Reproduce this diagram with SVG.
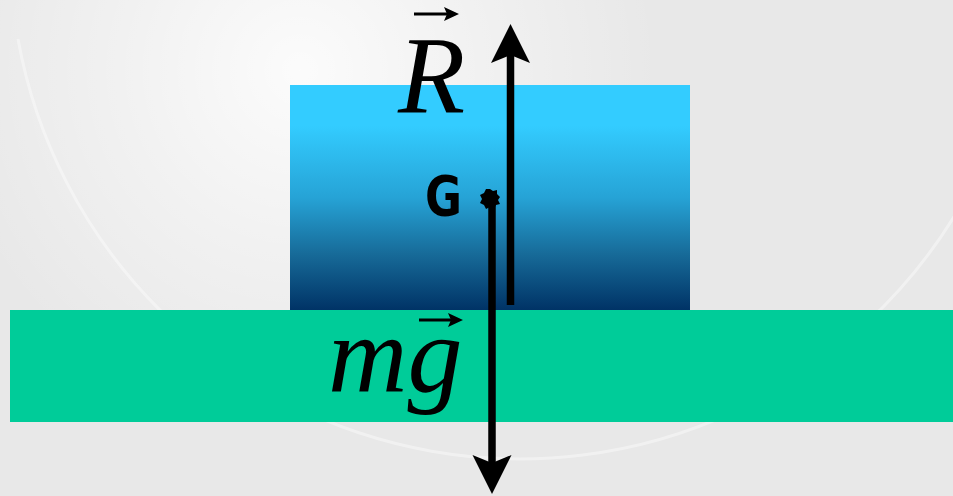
<svg xmlns="http://www.w3.org/2000/svg" width="953" height="496" viewBox="0 0 953 496">
  <defs>
    <style>
      .force { stroke: #000; stroke-width: 7.5; fill: none; stroke-linecap: butt; }
      .vec { stroke: #000; stroke-width: 3; fill: none; }
      .sym { font-family: "Liberation Serif", "Times New Roman", serif; font-style: italic; font-size: 110px; fill: #000; }
      .glabel { font-family: "Comic Sans MS", "DejaVu Sans", sans-serif; font-weight: bold; font-size: 55px; fill: #000; }
    </style>
    <linearGradient id="blockGrad" x1="0" y1="0" x2="0" y2="1">
      <stop offset="0" stop-color="#33ccff"/>
      <stop offset="0.18" stop-color="#33ccff"/>
      <stop offset="0.5" stop-color="#26a3d6"/>
      <stop offset="0.75" stop-color="#176b99"/>
      <stop offset="1" stop-color="#003366"/>
    </linearGradient>
    <radialGradient id="bgGlow" cx="300" cy="70" r="360" gradientUnits="userSpaceOnUse">
      <stop offset="0" stop-color="#ffffff" stop-opacity="0.85"/>
      <stop offset="0.5" stop-color="#ffffff" stop-opacity="0.4"/>
      <stop offset="1" stop-color="#ffffff" stop-opacity="0"/>
    </radialGradient>
    <marker id="head" markerUnits="userSpaceOnUse" markerWidth="40" markerHeight="40" refX="14" refY="20" orient="auto" overflow="visible">
      <path d="M39,20 L0,0.5 L8,20 L0,39.5 Z" fill="#000"/>
    </marker>
    <marker id="smallHead" markerUnits="userSpaceOnUse" markerWidth="16" markerHeight="14" refX="6" refY="7" orient="auto" overflow="visible">
      <path d="M15,7 L0,0 L3,7 L0,14 Z" fill="#000"/>
    </marker>
  </defs>

  <g id="background">
    <rect x="0" y="0" width="953" height="496" fill="#e8e8e8"/>
    <rect x="0" y="0" width="953" height="496" fill="url(#bgGlow)"/>
    <path d="M18,39 A510,510 0 0 0 961,205" fill="none" stroke="#ffffff" stroke-opacity="0.4" stroke-width="3"/>
  </g>

  <g id="ground">
    <rect x="10" y="310" width="943" height="112" fill="#00cc99"/>
  </g>

  <g id="block">
    <rect x="290" y="85" width="400" height="225" fill="url(#blockGrad)"/>
  </g>

  <g id="connectors">
    <line id="force-R" class="force" x1="510.5" y1="305" x2="510.5" y2="49" marker-end="url(#head)"/>
    <line id="force-mg" class="force" x1="492" y1="200" x2="492" y2="469" marker-end="url(#head)"/>
  </g>

  <g id="point-G">
    <path d="M490,189 L493,191 L497,190 L497,194 L500,197 L498,200 L500,204 L496,205 L494,209 L490,207 L486,209 L484,205 L480,203 L482,199 L480,195 L484,193 L486,189 Z" fill="#000"/>
    <text class="glabel" x="425" y="215" textLength="37" lengthAdjust="spacingAndGlyphs">G</text>
  </g>

  <g id="label-R">
    <text class="sym" x="398" y="113">R</text>
    <line class="vec" x1="414" y1="14" x2="450" y2="14" marker-end="url(#smallHead)"/>
  </g>

  <g id="label-mg">
    <text class="sym" x="328" y="392">mg</text>
    <line class="vec" x1="419" y1="320" x2="454" y2="320" marker-end="url(#smallHead)"/>
  </g>
</svg>
